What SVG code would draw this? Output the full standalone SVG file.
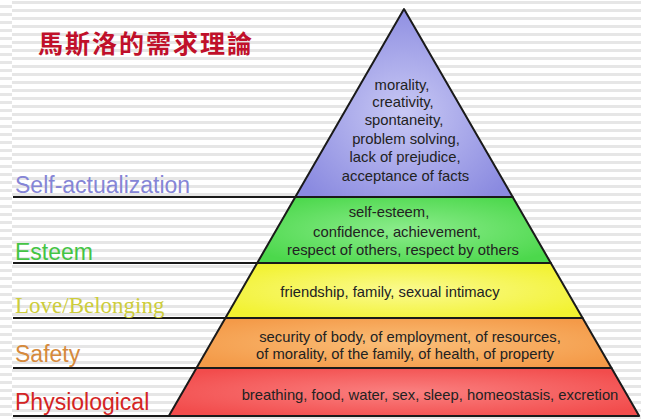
<svg xmlns="http://www.w3.org/2000/svg" width="646" height="419" viewBox="0 0 646 419">
  <defs>
    <pattern id="stripes" x="0" y="0" width="8" height="8" patternUnits="userSpaceOnUse">
      <rect x="0" y="0" width="8" height="8" fill="#ffffff"/>
      <rect x="0" y="1" width="8" height="3" fill="#e6e6e6"/>
    </pattern>
    <pattern id="stripes2" x="0" y="4" width="8" height="8" patternUnits="userSpaceOnUse">
      <rect x="0" y="0" width="8" height="8" fill="#ffffff"/>
      <rect x="0" y="1" width="8" height="3" fill="#e6e6e6"/>
    </pattern>
    <radialGradient id="gPurple" cx="0.5" cy="0.55" r="0.6">
      <stop offset="0" stop-color="#c8c8f4"/>
      <stop offset="1" stop-color="#8a8ae0"/>
    </radialGradient>
    <radialGradient id="gGreen" cx="0.5" cy="0.5" r="0.6">
      <stop offset="0" stop-color="#8cec8c"/>
      <stop offset="1" stop-color="#4cd84c"/>
    </radialGradient>
    <radialGradient id="gYellow" cx="0.5" cy="0.5" r="0.6">
      <stop offset="0" stop-color="#fafa90"/>
      <stop offset="1" stop-color="#f2f230"/>
    </radialGradient>
    <radialGradient id="gOrange" cx="0.5" cy="0.5" r="0.6">
      <stop offset="0" stop-color="#fabe78"/>
      <stop offset="1" stop-color="#f49a48"/>
    </radialGradient>
    <radialGradient id="gRed" cx="0.5" cy="0.5" r="0.6">
      <stop offset="0" stop-color="#fa8080"/>
      <stop offset="1" stop-color="#f24c4c"/>
    </radialGradient>
  </defs>
  <style>
    .tier { stroke: #1a1a1a; stroke-width: 2; stroke-linejoin: round; }
    .body { font-family: "Liberation Sans", Arial, sans-serif; font-size: 14.8px; fill: #222222; text-anchor: middle; }
    .label { font-family: "Liberation Sans", Arial, sans-serif; font-size: 23px; }
    .leader { stroke: #1a1a1a; stroke-width: 2; fill: none; }
  </style>

  <rect x="0" y="0" width="646" height="419" fill="#ffffff"/>
  <rect x="0" y="0" width="12" height="419" fill="url(#stripes2)"/>
  <rect x="12" y="0" width="629" height="419" fill="url(#stripes)"/>

  <text x="38" y="53" font-family="'Noto Sans CJK TC', 'Noto Sans CJK SC', sans-serif" font-size="25" font-weight="bold" letter-spacing="2" fill="#c0102a">馬斯洛的需求理論</text>

  <g id="connectors">
    <line class="leader" x1="13" y1="197" x2="296" y2="197"/>
    <line class="leader" x1="13" y1="263" x2="258" y2="263"/>
    <line class="leader" x1="13" y1="318" x2="226" y2="318"/>
    <line class="leader" x1="13" y1="368" x2="197" y2="368"/>
    <line class="leader" x1="13" y1="416" x2="169" y2="416"/>
  </g>

  <g id="self-actualization">
    <polygon class="tier" fill="url(#gPurple)" points="404,9 512.7,197 295.3,197"/>
    <text class="label" x="15" y="193" fill="#8585d6">Self-actualization</text>
    <text class="body" x="402" y="90">morality,</text>
    <text class="body" x="403" y="107">creativity,</text>
    <text class="body" x="404" y="125">spontaneity,</text>
    <text class="body" x="406" y="144">problem solving,</text>
    <text class="body" x="405" y="162">lack of prejudice,</text>
    <text class="body" x="405.5" y="181">acceptance of facts</text>
  </g>

  <g id="esteem">
    <polygon class="tier" fill="url(#gGreen)" points="295.3,197 512.7,197 550.8,263 257.2,263"/>
    <text class="label" x="15" y="260" fill="#44c444">Esteem</text>
    <text class="body" x="389" y="217">self-esteem,</text>
    <text class="body" x="397" y="237">confidence, achievement,</text>
    <text class="body" x="403" y="255">respect of others, respect by others</text>
  </g>

  <g id="love-belonging">
    <polygon class="tier" fill="url(#gYellow)" points="257.2,263 550.8,263 582.6,318 225.4,318"/>
    <text x="15" y="313" font-family="'Liberation Serif', 'Times New Roman', serif" font-size="23" fill="#cdcd3c">Love/Belonging</text>
    <text class="body" x="390" y="297">friendship, family, sexual intimacy</text>
  </g>

  <g id="safety">
    <polygon class="tier" fill="url(#gOrange)" points="225.4,318 582.6,318 611.5,368 196.5,368"/>
    <text class="label" x="15" y="362" fill="#d68a3c">Safety</text>
    <text class="body" x="410" y="342">security of body, of employment, of resources,</text>
    <text class="body" x="405" y="359">of morality, of the family, of health, of property</text>
  </g>

  <g id="physiological">
    <polygon class="tier" fill="url(#gRed)" points="196.5,368 611.5,368 639.2,416 168.8,416"/>
    <text class="label" x="15" y="410" fill="#d42424">Physiological</text>
    <text class="body" x="430" y="400">breathing, food, water, sex, sleep, homeostasis, excretion</text>
  </g>
</svg>
